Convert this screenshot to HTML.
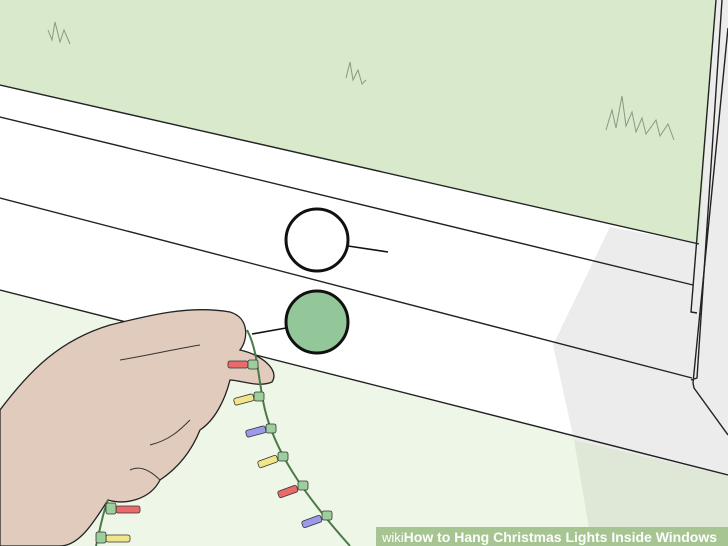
<!DOCTYPE html>
<html><head><meta charset="utf-8"><style>
html,body{margin:0;padding:0;width:728px;height:546px;overflow:hidden;background:#fff}
svg{display:block}
</style></head><body>
<svg width="728" height="546" viewBox="0 0 728 546" xmlns="http://www.w3.org/2000/svg">
<rect x="0" y="0" width="728" height="546" fill="#eef6e7"/>
<polygon points="0,85 700,244 728,250 728,475 0,290" fill="#ffffff"/>
<polygon points="0,0 726,0 699,244 0,85" fill="#d8eacb"/>
<polygon points="610,227 553,345 574,440 728,476 728,250 699,244" fill="#ececec"/>
<polygon points="574,440 592,546 728,546 728,476" fill="#dfe8d6"/>
<polygon points="715,0 728,0 728,546 728,435 694,388 690,382" fill="#ececec"/>
<g fill="none" stroke="#222" stroke-width="1.4">
<line x1="0" y1="85" x2="699" y2="244"/>
<line x1="0" y1="117" x2="693" y2="285"/>
<line x1="0" y1="198" x2="692" y2="378"/>
<line x1="0" y1="290" x2="728" y2="475"/>
<polyline points="716,0 691,312 697,313"/>
<polyline points="722,0 697,378 691,380"/>
<polyline points="728,28 693,383 694,388 728,435"/>
</g>
<g fill="none" stroke="#8a9a80" stroke-width="1">
<polyline points="48,30 52,40 55,22 60,42 64,30 70,44"/>
<polyline points="346,78 350,62 353,80 358,70 362,84 366,80"/>
<polyline points="606,130 612,110 616,128 622,96 626,126 632,112 636,132 642,118 646,134 656,120 660,136 668,124 674,140"/>
</g>
<circle cx="317" cy="240" r="31" fill="#fff" stroke="#111" stroke-width="3"/>
<line x1="348" y1="246" x2="388" y2="252" stroke="#111" stroke-width="1.6"/>
<circle cx="317" cy="322" r="31" fill="#93c799" stroke="#111" stroke-width="3"/>
<line x1="286" y1="328" x2="252" y2="334" stroke="#111" stroke-width="1.6"/>
<path d="M0,410 C30,370 60,340 110,325 C150,315 190,305 230,312 C250,318 248,340 240,350 C262,355 280,370 272,382 C258,388 240,380 230,380 C225,400 215,420 200,430 C190,455 175,470 160,480 C150,500 125,505 108,500 C95,520 80,546 60,546 L0,546 Z" fill="#e0cbbd" stroke="#222" stroke-width="1.3"/>
<path d="M120,360 C150,355 170,350 200,345 M150,445 C170,440 180,430 190,420 M160,480 C150,470 140,465 130,470" fill="none" stroke="#333" stroke-width="1"/>
<path d="M247,330 C258,350 258,380 265,410 C275,450 300,490 350,546 M108,500 C102,515 100,530 96,546" fill="none" stroke="#4a7a4a" stroke-width="2"/>
<g stroke="#333" stroke-width="0.8">
<rect x="228" y="361" width="20" height="7" rx="2" fill="#e86a6a"/><rect x="248" y="360" width="10" height="9" rx="2" fill="#9ccf9c"/>
<rect x="234" y="396" width="20" height="7" rx="2" fill="#f1e58a" transform="rotate(-15 244 400)"/><rect x="254" y="392" width="10" height="9" rx="2" fill="#9ccf9c"/>
<rect x="246" y="428" width="20" height="7" rx="2" fill="#9a9ae8" transform="rotate(-15 256 432)"/><rect x="266" y="424" width="10" height="9" rx="2" fill="#9ccf9c"/>
<rect x="258" y="458" width="20" height="7" rx="2" fill="#f1e58a" transform="rotate(-20 268 462)"/><rect x="278" y="452" width="10" height="9" rx="2" fill="#9ccf9c"/>
<rect x="278" y="488" width="20" height="7" rx="2" fill="#e86a6a" transform="rotate(-20 288 492)"/><rect x="298" y="481" width="10" height="9" rx="2" fill="#9ccf9c"/>
<rect x="302" y="518" width="20" height="7" rx="2" fill="#9a9ae8" transform="rotate(-20 312 522)"/><rect x="322" y="511" width="10" height="9" rx="2" fill="#9ccf9c"/>
<rect x="116" y="506" width="24" height="7" rx="2" fill="#e86a6a"/><rect x="106" y="503" width="10" height="11" rx="2" fill="#9ccf9c"/>
<rect x="106" y="535" width="24" height="7" rx="2" fill="#f1e58a"/><rect x="96" y="532" width="10" height="11" rx="2" fill="#9ccf9c"/>
</g>
<rect x="376" y="527" width="352" height="19" fill="#a6c592"/>
<text x="382" y="542" font-family="Liberation Sans, sans-serif" font-size="14" font-weight="bold" fill="#fff"><tspan font-weight="normal" font-size="13">wiki</tspan>How to Hang Christmas Lights Inside Windows</text>
</svg>
</body></html>
